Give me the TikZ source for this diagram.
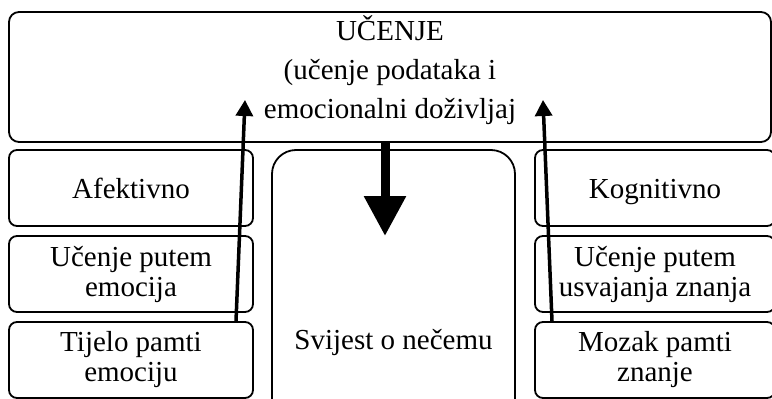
\documentclass[tikz,border=0pt]{standalone}
\usepackage{fontspec}
\setmainfont{Liberation Serif}
\usetikzlibrary{arrows.meta}

\begin{document}
\begin{tikzpicture}[x=1pt,y=-1pt,font=\fontsize{29}{30}\selectfont,
    kutija/.style={draw,line width=1.8pt,rounded corners=8pt,align=center,
      minimum width=244pt,minimum height=76pt,inner sep=2pt},
    jedanred/.style={text height=20pt,text depth=0pt},
    strelica/.style={line width=3.5pt,-{Triangle[length=16pt,width=17pt]}}]
    \clip (0,0) rectangle (772,399);
    \node[kutija,minimum width=762pt,minimum height=130pt,rounded corners=10pt] (ucenje) at (390,77)
      {UČENJE\\[9pt](učenje podataka i\\[9pt]emocionalni doživljaj\rule[-19pt]{0pt}{19pt}};
    % lijevi stupac
    \node[kutija,jedanred] (afektivno) at (131,188) {Afektivno};
    \node[kutija] (emocije) at (131,274) {Učenje putem\\emocija};
    \node[kutija] (tijelo) at (131,360) {Tijelo pamti\\emociju};
    % sredina
    \node[kutija,minimum width=243pt,minimum height=384pt,rounded corners=24pt] (svijest) at (393.5,342) {Svijest o nečemu};
    % desni stupac
    \node[kutija,jedanred,minimum width=240pt] (kognitivno) at (655,188) {Kognitivno};
    \node[kutija,minimum width=240pt] (znanje) at (655,274) {Učenje putem\\usvajanja znanja};
    \node[kutija,minimum width=240pt] (mozak) at (655,360) {Mozak pamti\\znanje};
    \coordinate (vrhL) at (245,100);
    \coordinate (vrhD) at (543,100);
    \coordinate (vrhS) at (385,236);
    \draw[strelica] ([xshift=105pt]tijelo.north) -- (vrhL);
    \draw[strelica] ([xshift=-103pt]mozak.north) -- (vrhD);
    \draw[line width=9pt,-{Triangle[length=40pt,width=40pt]}] ([xshift=-5pt]ucenje.south) -- (vrhS);
  \end{tikzpicture}
\end{document}
